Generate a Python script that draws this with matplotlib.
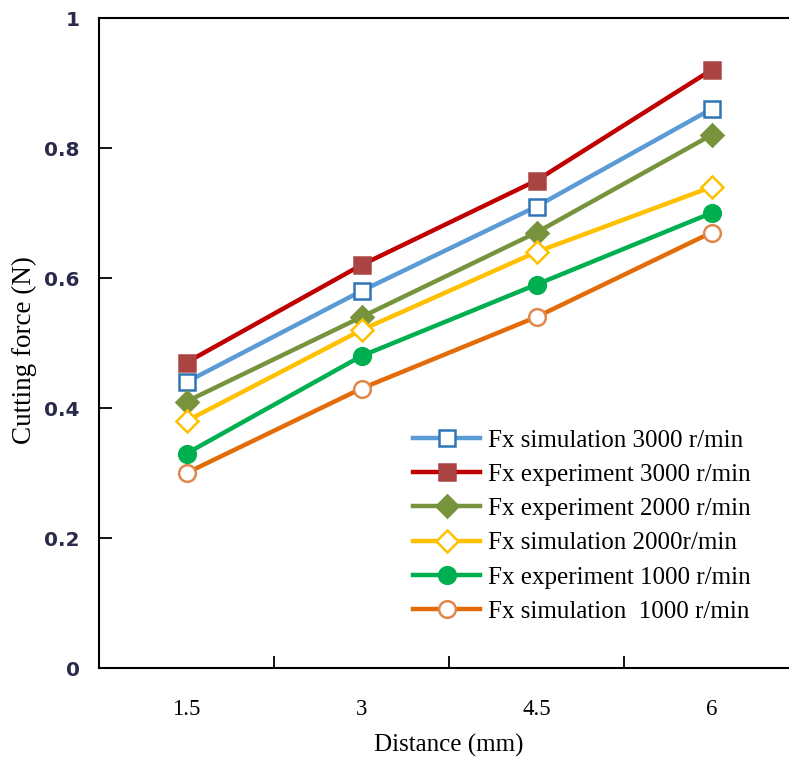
import matplotlib.pyplot as plt
from matplotlib.ticker import FixedLocator

plt.rcParams['font.family'] = ['Liberation Serif', 'DejaVu Serif']

distance = ['1.5', '3', '4.5', '6']

sim_3000 = [0.44, 0.58, 0.71, 0.86]
exp_3000 = [0.47, 0.62, 0.75, 0.92]
exp_2000 = [0.41, 0.54, 0.67, 0.82]
sim_2000 = [0.38, 0.52, 0.64, 0.74]
exp_1000 = [0.33, 0.48, 0.59, 0.70]
sim_1000 = [0.30, 0.43, 0.54, 0.67]

# (values, label, line colour, marker, marker face, marker edge)
series = [
    (sim_3000, 'Fx simulation 3000 r/min', '#5B9BD5', 's', 'white', '#2E75B6'),
    (exp_3000, 'Fx experiment 3000 r/min', '#C00000', 's', '#A94442', '#A94442'),
    (exp_2000, 'Fx experiment 2000 r/min', '#77933C', 'D', '#77933C', '#77933C'),
    (sim_2000, 'Fx simulation 2000r/min', '#FFC000', 'D', 'white', '#FFC000'),
    (exp_1000, 'Fx experiment 1000 r/min', '#00B050', 'o', '#00B050', '#00B050'),
    (sim_1000, 'Fx simulation  1000 r/min', '#E36C09', 'o', 'white', '#E0884B'),
]

fig = plt.figure(figsize=(7.89, 7.57), dpi=100)
# plot area runs a little past the right edge of the figure
ax = fig.add_axes([99 / 789, 89 / 757, 700 / 789, 650 / 757])

x = list(range(len(distance)))
for vals, label, color, mk, face, edge in series:
    msize = 11 if mk == 'D' else 12
    ax.plot(x, vals, color=color, lw=3.2, marker=mk, ms=msize,
            mfc=face, mec=edge, mew=1.8, label=label)

ax.set_xlim(-0.5, 3.5)
ax.set_ylim(0, 1)
ax.set_xticks(x)
ax.set_xticklabels(distance)
ax.xaxis.set_minor_locator(FixedLocator([0.5, 1.5, 2.5]))
ax.tick_params(axis='x', which='major', length=0, pad=22, labelsize=16.5)
ax.tick_params(axis='x', which='minor', direction='in', length=9, width=1.3)
ax.set_yticks([0, 0.2, 0.4, 0.6, 0.8, 1.0])
ax.set_yticklabels(['0', '0.2', '0.4', '0.6', '0.8', '1'],
                   family='DejaVu Sans', fontweight='bold')
ax.tick_params(axis='y', direction='in', length=9, width=1.3, pad=14,
               labelsize=14.5, labelcolor='#2A2A4A')
for s in ax.spines.values():
    s.set_linewidth(1.5)

ax.set_xlabel('Distance (mm)', fontsize=18, labelpad=10)
ax.set_ylabel('Cutting force (N)', fontsize=19.5)
ax.yaxis.set_label_coords(-0.088, 0.489)

ax.legend(loc='upper left', bbox_to_anchor=(0.434, 0.383), frameon=False,
          fontsize=18, handlelength=2.7, handletextpad=0.3,
          labelspacing=0.47, borderaxespad=0)

fig.savefig('out.png', dpi=100)
